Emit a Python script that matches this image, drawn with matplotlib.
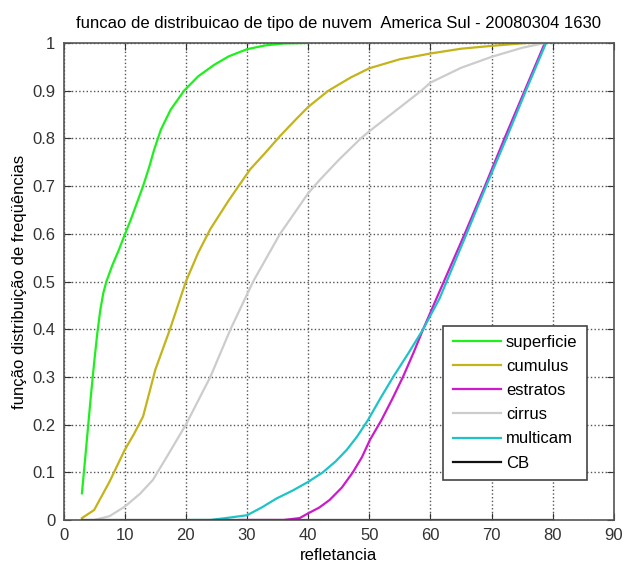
import matplotlib
matplotlib.use("Agg")
import matplotlib.pyplot as plt

plt.rcParams['font.family'] = ['Liberation Sans', 'DejaVu Sans']

# superficie
x_sup = [3, 3.5, 4, 4.5, 5, 5.5, 6, 6.5, 7, 8, 9, 10, 11, 12, 13, 14, 14.8, 15.9, 17.5, 19.7,
         22, 24.6, 27, 30, 33, 36, 40]
y_sup = [0.056, 0.125, 0.195, 0.265, 0.33, 0.39, 0.44, 0.476, 0.50, 0.535, 0.565, 0.598, 0.63,
         0.665, 0.70, 0.74, 0.776, 0.818, 0.86, 0.90, 0.93, 0.954, 0.972, 0.987, 0.995, 0.999, 1.0]

# cumulus
x_cum = [3, 5, 7.5, 10, 11.5, 13, 15, 17.4, 20, 22, 24, 27, 30.5, 33, 35.4, 38, 40, 43.3, 47,
         50, 55, 60, 65, 70, 75.7, 79]
y_cum = [0.004, 0.021, 0.08, 0.147, 0.18, 0.217, 0.315, 0.40, 0.50, 0.56, 0.61, 0.67, 0.735,
         0.77, 0.805, 0.84, 0.866, 0.90, 0.928, 0.947, 0.966, 0.978, 0.988, 0.994, 1.0, 1.0]

# cirrus
x_cir = [5, 7.5, 10, 12.5, 14.6, 17, 20, 24, 27.3, 31, 35.4, 40, 41.9, 45, 48.6, 50, 55,
         58.5, 60, 65, 70, 75, 78.7]
y_cir = [0.0, 0.008, 0.028, 0.055, 0.084, 0.135, 0.2, 0.30, 0.40, 0.50, 0.60, 0.685, 0.713,
         0.755, 0.80, 0.815, 0.865, 0.90, 0.917, 0.948, 0.971, 0.99, 1.0]

# estratos
x_est = [28.8, 33, 36, 38.6, 40, 41.8, 43.5, 45.5, 47.3, 48.8, 50.1, 52, 53.8, 55.5, 57.2,
         58.8, 61, 65.6, 68.9, 72.1, 75.4, 78.7]
y_est = [0.0, 0.0, 0.0, 0.004, 0.014, 0.026, 0.042, 0.068, 0.10, 0.132, 0.168, 0.21, 0.255,
         0.30, 0.35, 0.40, 0.465, 0.60, 0.70, 0.80, 0.90, 1.0]

# multicam
x_mul = [20.1, 24, 26.5, 30, 32.5, 34.8, 37.5, 40, 42.4, 44.5, 46.3, 48, 49.8, 51.8, 53.9,
         56.4, 58.8, 61.5, 65.9, 69.1, 72.4, 75.6, 78.9]
y_mul = [0.0, 0.0, 0.004, 0.01, 0.027, 0.045, 0.062, 0.08, 0.10, 0.123, 0.147, 0.175, 0.21,
         0.255, 0.30, 0.35, 0.40, 0.465, 0.60, 0.70, 0.80, 0.90, 1.0]

# CB
x_cb = [3, 20, 40, 60, 80]
y_cb = [0, 0, 0, 0, 0]

series = [
    ('superficie', x_sup, y_sup, '#1ef01e'),
    ('cumulus', x_cum, y_cum, '#c3b41a'),
    ('estratos', x_est, y_est, '#cc1acc'),
    ('cirrus', x_cir, y_cir, '#cccccc'),
    ('multicam', x_mul, y_mul, '#1ec3c8'),
    ('CB', x_cb, y_cb, '#111111'),
]

fig = plt.figure(figsize=(6.24, 5.68), dpi=100)
ax = fig.add_axes([0.1019, 0.0845, 0.882, 0.8398])

for name, xs, ys, col in series:
    ax.plot(xs, ys, color=col, linewidth=1.6, label=name, solid_joinstyle='round')

ax.set_xlim(0, 90)
ax.set_ylim(0, 1)
ax.set_xticks(range(0, 91, 10))
ax.set_yticks([i / 10 for i in range(11)])
ax.set_yticklabels(['0', '0.1', '0.2', '0.3', '0.4', '0.5', '0.6', '0.7', '0.8', '0.9', '1'])
ax.grid(True, linestyle=':', color='#555555', linewidth=1.0)
ax.tick_params(direction='in', top=True, right=True, labelsize=12, length=5,
               colors='#333333', pad=6)
for s in ax.spines.values():
    s.set_color('#555555')
    s.set_linewidth(1.2)

ax.set_title('funcao de distribuicao de tipo de nuvem  America Sul - 20080304 1630',
             fontsize=12, pad=11)
ax.set_xlabel('refletancia', fontsize=12, labelpad=3)
ax.set_ylabel('função distribuição de freqüências', fontsize=12, labelpad=4)

leg = ax.legend(loc='lower right', bbox_to_anchor=(0.9655, 0.067), fontsize=12,
                fancybox=False, edgecolor='#444444', framealpha=1,
                handlelength=2.9, handletextpad=0.3, labelspacing=0.55, borderpad=0.55)
leg.get_frame().set_linewidth(1.2)

fig.savefig('out.png', dpi=100)
